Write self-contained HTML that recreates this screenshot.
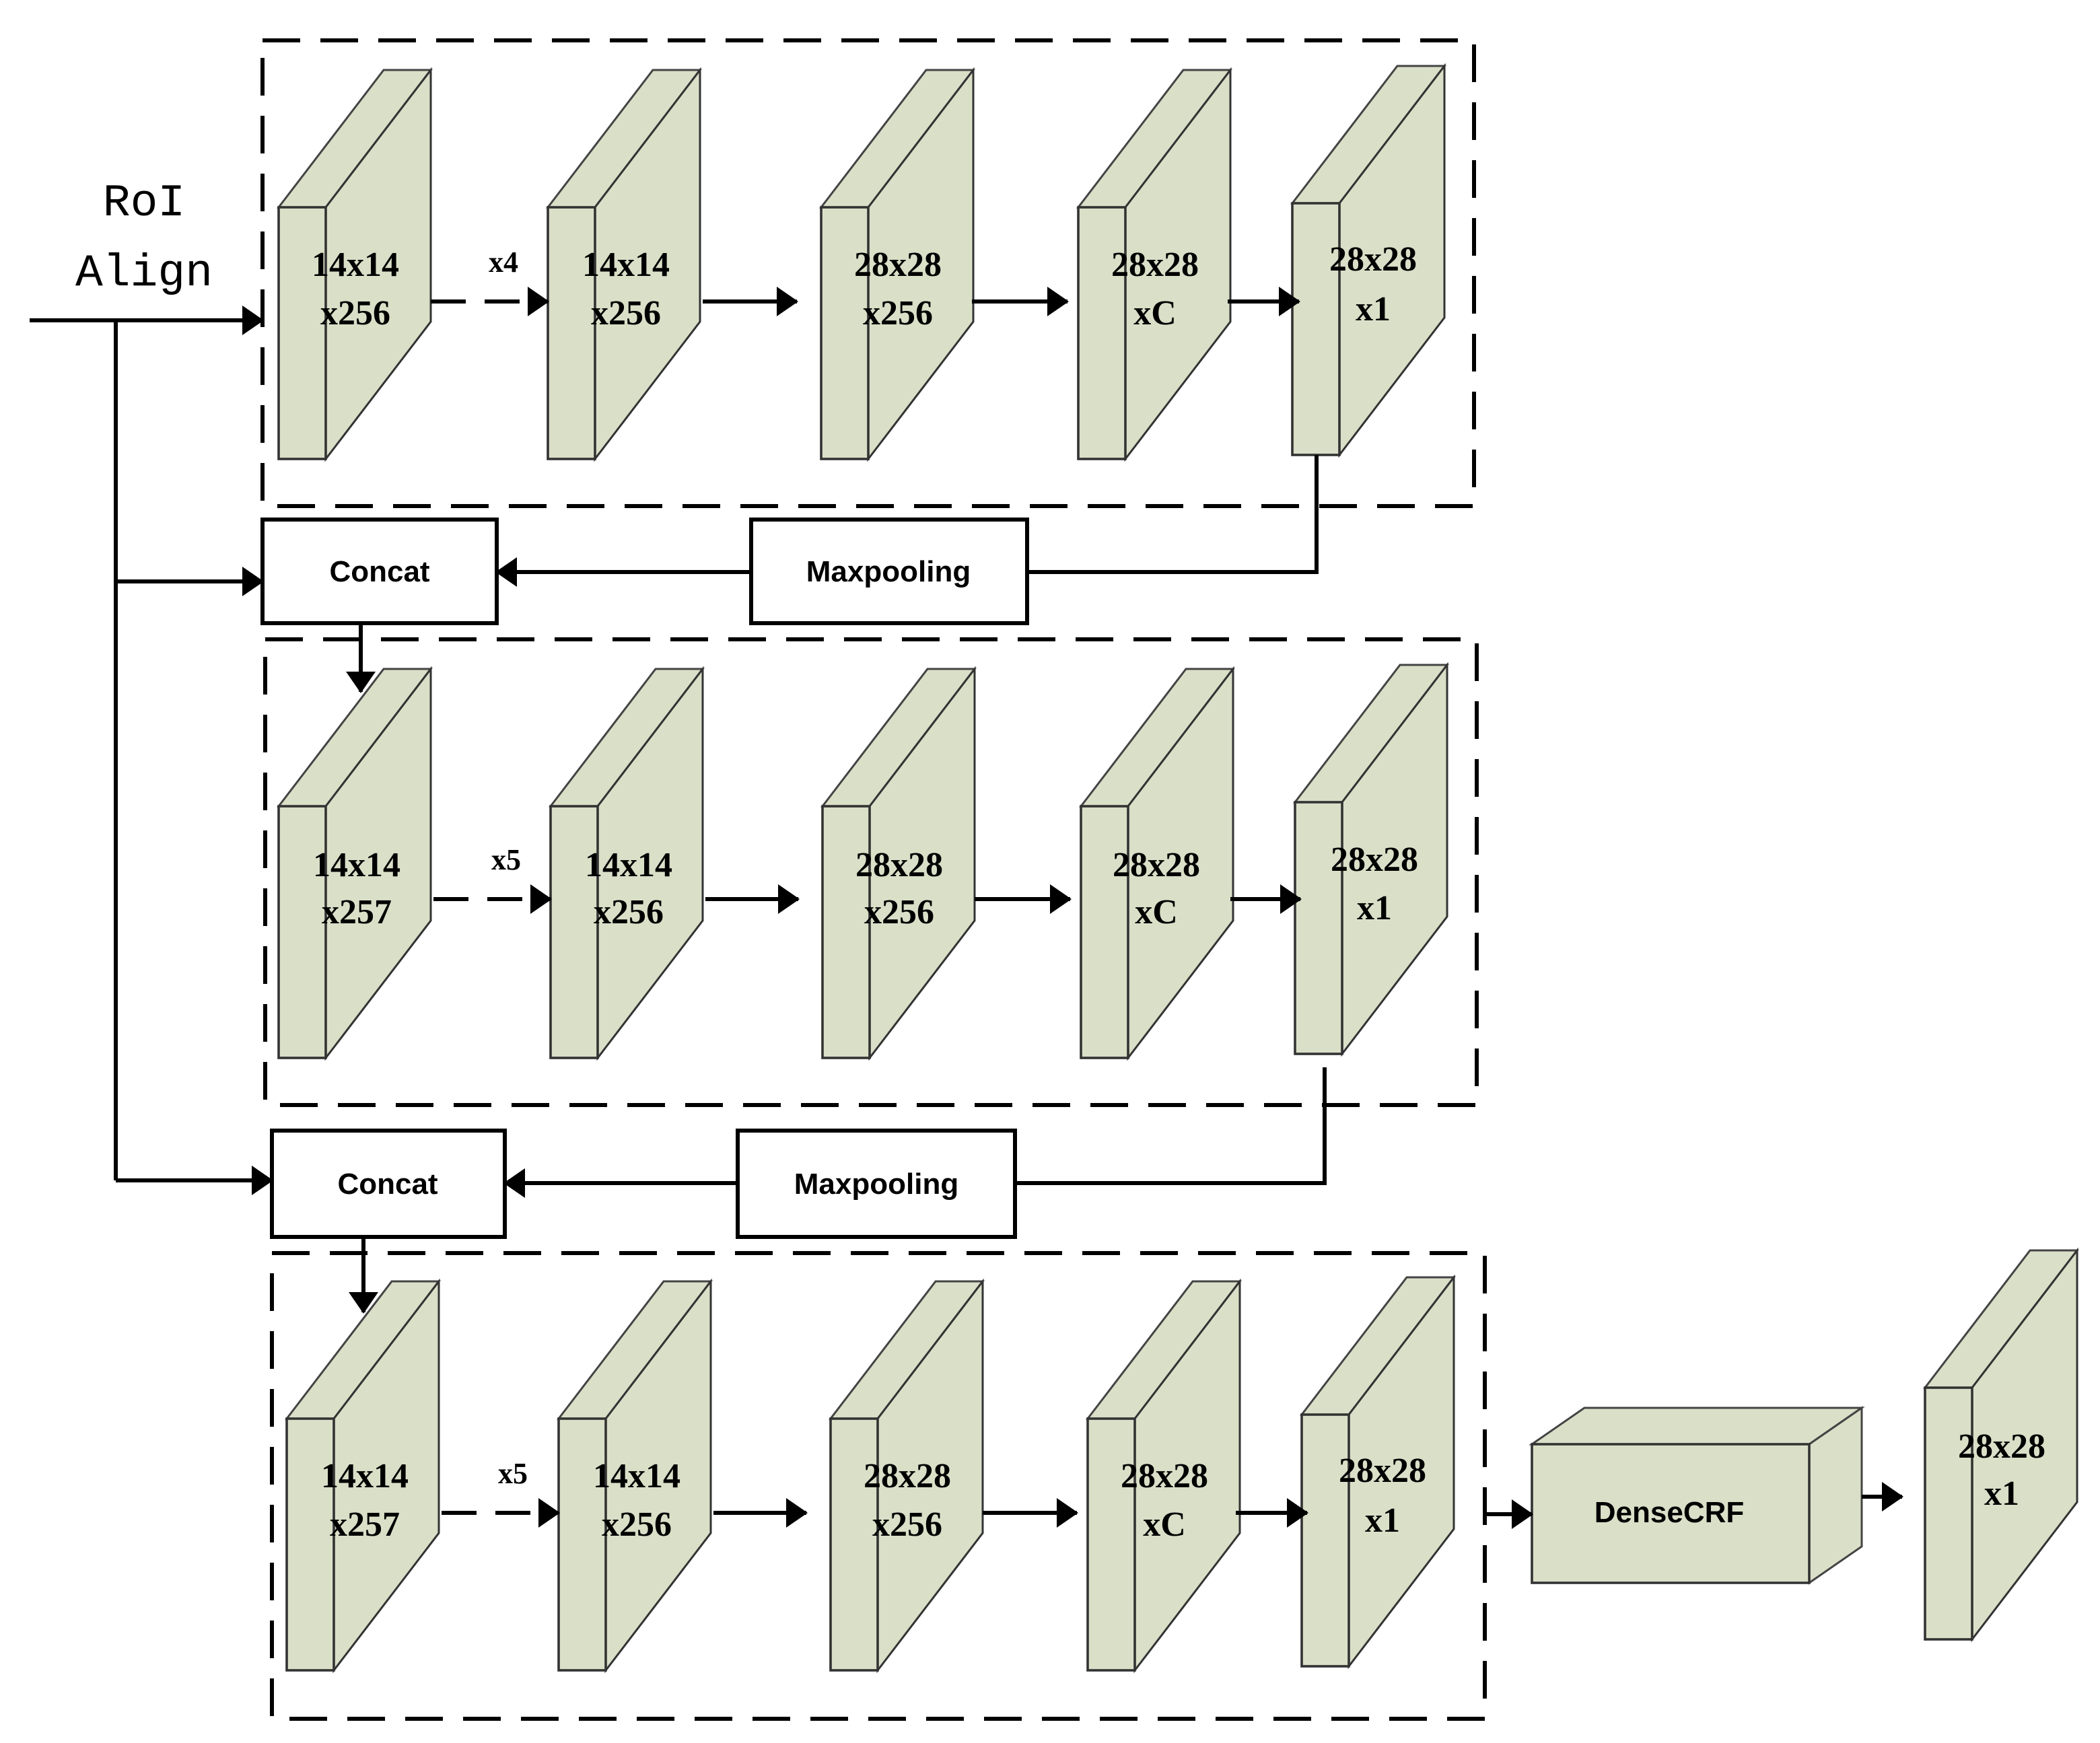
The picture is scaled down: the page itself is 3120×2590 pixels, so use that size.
<!DOCTYPE html>
<html><head><meta charset="utf-8"><style>html,body{margin:0;padding:0;background:#fff}svg{display:block}</style></head>
<body>
<svg width="3120" height="2590" viewBox="0 0 1560 1295" xmlns="http://www.w3.org/2000/svg">
<defs>
<marker id="ah" markerWidth="16" markerHeight="22" refX="15" refY="11" orient="auto" markerUnits="userSpaceOnUse">
<path d="M0,0 L16,11 L0,22 Z" fill="#000"/></marker>
<g id="blk">
<path d="M0,0 L78,-102 L113,-102 L35,0 Z" fill="#dadfc8" stroke="#444" stroke-width="1.5"/>
<path d="M35,0 L113,-102 L113,85 L35,187 Z" fill="#dadfc8" stroke="#333" stroke-width="1.5"/>
<rect x="0" y="0" width="35" height="187" fill="#dadfc8" stroke="#333" stroke-width="1.8"/>
</g>
</defs>
<g fill="none" stroke="#000" stroke-width="3" stroke-dasharray="28,15">
<rect x="195" y="30" width="900" height="346"/>
<rect x="197" y="475" width="900" height="346"/>
<rect x="202" y="931" width="901" height="346"/>
</g>
<use href="#blk" x="207" y="154"/><use href="#blk" x="407" y="154"/><use href="#blk" x="610" y="154"/><use href="#blk" x="801" y="154"/><use href="#blk" x="960" y="151"/>
<use href="#blk" x="207" y="599"/><use href="#blk" x="409" y="599"/><use href="#blk" x="611" y="599"/><use href="#blk" x="803" y="599"/><use href="#blk" x="962" y="596"/>
<use href="#blk" x="213" y="1054"/><use href="#blk" x="415" y="1054"/><use href="#blk" x="617" y="1054"/><use href="#blk" x="808" y="1054"/><use href="#blk" x="967" y="1051"/>
<use href="#blk" x="1430" y="1031"/>
<path d="M1138,1073 L1177,1046 L1383,1046 L1344,1073 Z" fill="#dadfc8" stroke="#444" stroke-width="1.5"/>
<path d="M1344,1073 L1383,1046 L1383,1149 L1344,1176 Z" fill="#dadfc8" stroke="#444" stroke-width="1.5"/>
<rect x="1138" y="1073" width="206" height="103" fill="#dadfc8" stroke="#333" stroke-width="1.8"/>
<g stroke="#000" stroke-width="3" fill="none">
<path d="M22,238 H195" marker-end="url(#ah)"/>
<path d="M86,238 V877"/>
<path d="M86,432 H195" marker-end="url(#ah)"/>
<path d="M86,877 H202" marker-end="url(#ah)"/>
<path d="M978,338 V425 H763"/>
<path d="M558,425 H369" marker-end="url(#ah)"/>
<path d="M984,793 V879 H754"/>
<path d="M548,879 H375" marker-end="url(#ah)"/>
<path d="M268,463 V514" marker-end="url(#ah)"/>
<path d="M270,919 V975" marker-end="url(#ah)"/>
<path d="M320,224 H407" stroke-dasharray="26,14" marker-end="url(#ah)"/>
<path d="M522,224 H592" marker-end="url(#ah)"/>
<path d="M722,224 H793" marker-end="url(#ah)"/>
<path d="M912,224 H965" marker-end="url(#ah)"/>
<path d="M322,668 H409" stroke-dasharray="26,14" marker-end="url(#ah)"/>
<path d="M524,668 H593" marker-end="url(#ah)"/>
<path d="M724,668 H795" marker-end="url(#ah)"/>
<path d="M914,668 H966" marker-end="url(#ah)"/>
<path d="M328,1124 H415" stroke-dasharray="26,14" marker-end="url(#ah)"/>
<path d="M530,1124 H599" marker-end="url(#ah)"/>
<path d="M730,1124 H800" marker-end="url(#ah)"/>
<path d="M918,1124 H971" marker-end="url(#ah)"/>
<path d="M1103,1125 H1138" marker-end="url(#ah)"/>
<path d="M1383,1112 H1413" marker-end="url(#ah)"/>
</g>
<rect x="195" y="386" width="174" height="77" fill="#fff" stroke="#000" stroke-width="3"/>
<rect x="558" y="386" width="205" height="77" fill="#fff" stroke="#000" stroke-width="3"/>
<rect x="202" y="840" width="173" height="79" fill="#fff" stroke="#000" stroke-width="3"/>
<rect x="548" y="840" width="206" height="79" fill="#fff" stroke="#000" stroke-width="3"/>
<g font-family="Liberation Sans, sans-serif" font-weight="bold" font-size="22" text-anchor="middle" fill="#000">
<text x="282" y="432">Concat</text><text x="660" y="432">Maxpooling</text>
<text x="288" y="887">Concat</text><text x="651" y="887">Maxpooling</text>
<text x="1240" y="1131">DenseCRF</text>
</g>
<g font-family="Liberation Mono, monospace" font-size="34" text-anchor="middle" fill="#000">
<text x="107" y="160">RoI</text><text x="107" y="212">Align</text>
</g>
<g font-family="Liberation Serif, serif" font-weight="bold" font-size="26" text-anchor="middle" fill="#000">
<text x="264" y="205">14x14</text><text x="264" y="241">x256</text>
<text x="374" y="202" font-size="22">x4</text>
<text x="465" y="205">14x14</text><text x="465" y="241">x256</text>
<text x="667" y="205">28x28</text><text x="667" y="241">x256</text>
<text x="858" y="205">28x28</text><text x="858" y="241">xC</text>
<text x="1020" y="201">28x28</text><text x="1020" y="238">x1</text>
<text x="265" y="651">14x14</text><text x="265" y="686">x257</text>
<text x="376" y="646" font-size="22">x5</text>
<text x="467" y="651">14x14</text><text x="467" y="686">x256</text>
<text x="668" y="651">28x28</text><text x="668" y="686">x256</text>
<text x="859" y="651">28x28</text><text x="859" y="686">xC</text>
<text x="1021" y="647">28x28</text><text x="1021" y="683">x1</text>
<text x="271" y="1105">14x14</text><text x="271" y="1141">x257</text>
<text x="381" y="1102" font-size="22">x5</text>
<text x="473" y="1105">14x14</text><text x="473" y="1141">x256</text>
<text x="674" y="1105">28x28</text><text x="674" y="1141">x256</text>
<text x="865" y="1105">28x28</text><text x="865" y="1141">xC</text>
<text x="1027" y="1101">28x28</text><text x="1027" y="1138">x1</text>
<text x="1487" y="1083">28x28</text><text x="1487" y="1118">x1</text>
</g>
</svg>
</body></html>
